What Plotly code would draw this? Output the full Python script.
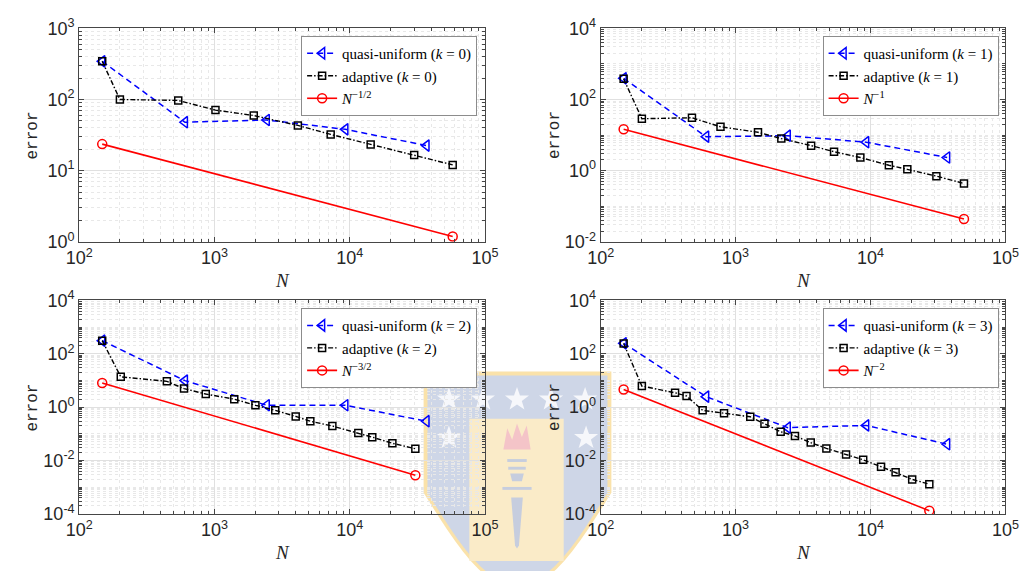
import math
import plotly.graph_objects as go

# ---------------- data ----------------
N_qu = [148, 605, 2437, 9290, 37000]

err_qu0 = [344, 47.9, 51.5, 38.1, 22.5]
N_ad0 = [148, 200, 540, 1018, 1954, 4140, 7240, 14300, 30000, 57800]
err_ad0 = [344, 100, 97, 71, 59.5, 43.2, 32.3, 23.4, 16.6, 12.05]
N_ref0 = [148, 57800]
err_ref0 = [23.6, 1.19]

err_qu1 = [393, 9.0, 9.6, 6.3, 2.34]
N_ad1 = [148, 202, 475, 773, 1466, 2183, 3631, 5370, 8410, 13680, 18750, 30800, 49300]
err_ad1 = [380, 28.8, 30.6, 17.1, 12.0, 7.96, 5.05, 3.4, 2.34, 1.42, 1.09, 0.70, 0.436]
N_ref1 = [148, 49300]
err_ref1 = [14.5, 0.0437]

err_qu2 = [310, 9.9, 1.18, 1.18, 0.297]
N_ad2 = [148, 203, 445, 596, 863, 1402, 2010, 2818, 3990, 5120, 7450, 11590, 14700, 20700, 30600]
err_ad2 = [310, 13.7, 9.3, 4.96, 3.1, 1.99, 1.18, 0.76, 0.45, 0.297, 0.196, 0.107, 0.0748, 0.0443, 0.0277]
N_ref2 = [148, 30600]
err_ref2 = [8.1, 0.00281]

err_qu3 = [248, 2.48, 0.171, 0.207, 0.0408]
N_ad3 = [148, 202, 356, 433, 570, 821, 1285, 1637, 2158, 2754, 3606, 4710, 6590, 8830, 11970, 15350, 20370, 27290]
err_ad3 = [243, 6.17, 3.46, 2.62, 0.76, 0.59, 0.437, 0.238, 0.12, 0.0836, 0.0469, 0.0285, 0.0169, 0.0106,
           0.0059, 0.0036, 0.00196, 0.0013]
N_ref3 = [148, 27290]
err_ref3 = [4.56, 1.32e-4]

ks = [0, 1, 2, 3]
ref_labels = ["<i>N</i><sup>\u22121/2</sup>", "<i>N</i><sup>\u22121</sup>",
              "<i>N</i><sup>\u22123/2</sup>", "<i>N</i><sup>\u22122</sup>"]
y_ranges = [(0, 3), (-2, 4), (-4, 4), (-4, 4)]
y_tick_exps = [[0, 1, 2, 3], [-2, 0, 2, 4], [-4, -2, 0, 2, 4], [-4, -2, 0, 2, 4]]
x_tick_exps = [2, 3, 4, 5]

panels = [
    (N_qu, err_qu0, N_ad0, err_ad0, N_ref0, err_ref0),
    (N_qu, err_qu1, N_ad1, err_ad1, N_ref1, err_ref1),
    (N_qu, err_qu2, N_ad2, err_ad2, N_ref2, err_ref2),
    (N_qu, err_qu3, N_ad3, err_ad3, N_ref3, err_ref3),
]

# ---------------- layout geometry ----------------
W, H = 1034, 571
px_x = [(67, 484), (603, 1019), (67, 484), (603, 1019)]
px_y = [(17, 239), (17, 239), (300, 522), (300, 522)]
leg_pos = [(476, 25), (1012, 25), (476, 308), (1012, 308)]

BLUE = "rgb(0,0,255)"
BLACK = "rgb(0,0,0)"
RED = "rgb(255,0,0)"
GRID = "rgb(224,224,224)"
MINOR_GRID = "rgb(232,232,232)"
AXC = "rgb(70,70,70)"
TXT = "rgb(38,38,38)"
TICKFONT = dict(family="Liberation Sans", size=18, color=TXT)
SERIF = "Liberation Serif"


def sup(e):
    return "10<sup>%s</sup>" % e


def minor_vals(lo, hi):
    vals = []
    for k in range(lo, hi):
        for m in range(2, 10):
            vals.append(m * 10.0 ** k)
    return vals


def P(x, y):
    return "%.5f,%.5f" % (x / W, 1 - y / H)


def path(pts, close=True):
    s = "M" + P(*pts[0]) + "".join(" L" + P(*p) for p in pts[1:])
    return s + (" Z" if close else "")


def star(cx, cy, r):
    pts = []
    for j in range(10):
        rr = r if j % 2 == 0 else r * 0.4
        a = -math.pi / 2 + j * math.pi / 5
        pts.append((cx + rr * math.cos(a), cy + rr * math.sin(a)))
    return path(pts)


fig = go.Figure()

# ---------------- faint watermark crest (background decoration) ----------------
def shield(x0, x1, ytop, ybend, ybot):
    cx = (x0 + x1) / 2
    pts = [(x0, ytop), (x1, ytop), (x1, ybend)]
    for j in range(1, 12):
        t = j / 12
        pts.append((x1 - (x1 - cx) * t, ybend + (ybot - ybend) * math.sin(t * math.pi / 2)))
    pts.append((cx, ybot))
    for j in range(11, 0, -1):
        t = j / 12
        pts.append((x0 + (cx - x0) * t, ybend + (ybot - ybend) * math.sin(t * math.pi / 2)))
    pts.append((x0, ybend))
    return path(pts)


shapes = [
    dict(type="path", path=shield(421, 614, 374, 500, 600), fillcolor="rgb(250,226,170)", line_width=0),
    dict(type="path", path=shield(425, 610, 378, 500, 596), fillcolor="rgb(206,214,231)", line_width=0),
    dict(type="path", path=path([(468, 423), (565, 423), (565, 571), (468, 571)]),
         fillcolor="rgb(250,235,200)", line_width=0),
]
for (sx, sy) in [(447, 403), (482, 403), (517, 403), (552, 403), (587, 403), (447, 443), (588, 443)]:
    shapes.append(dict(type="path", path=star(sx, sy, 13), fillcolor="rgb(246,247,251)", line_width=0))
# torch
shapes += [
    dict(type="path", path=path([(503, 455), (507, 433), (512, 445), (517, 428), (522, 442), (527, 430),
                                 (531, 455)]), fillcolor="rgb(244,196,200)", line_width=0),
    dict(type="path", path=path([(507, 465), (527, 465), (527, 468), (507, 468)]),
         fillcolor="rgb(198,205,222)", line_width=0),
    dict(type="path", path=path([(508, 473), (526, 473), (526, 476), (508, 476)]),
         fillcolor="rgb(198,205,222)", line_width=0),
    dict(type="path", path=path([(510, 480), (524, 480), (522, 488), (512, 488)]),
         fillcolor="rgb(198,205,222)", line_width=0),
    dict(type="path", path=path([(502, 494), (532, 494), (532, 497), (502, 497)]),
         fillcolor="rgb(198,205,222)", line_width=0),
    dict(type="path", path=path([(511, 505), (523, 505), (519, 555), (517, 558), (515, 555)]),
         fillcolor="rgb(198,205,222)", line_width=0),
]
for s in shapes:
    s.update(xref="paper", yref="paper", layer="below")
fig.update_layout(shapes=shapes)

for i, (Nq, eq, Na, ea, Nr, er) in enumerate(panels):
    sfx = "" if i == 0 else str(i + 1)
    xa, ya = "x" + sfx, "y" + sfx
    leg = "legend" + sfx
    k = ks[i]
    fig.add_trace(go.Scatter(
        x=Nq, y=eq, xaxis=xa, yaxis=ya, legend=leg,
        name="quasi-uniform (<i>k</i> = %d)" % k, mode="lines+markers",
        line=dict(color=BLUE, width=1.5, dash="6px,4px"),
        marker=dict(symbol="triangle-left-open", size=10, color=BLUE, line=dict(width=1.5, color=BLUE)),
    ))
    fig.add_trace(go.Scatter(
        x=Na, y=ea, xaxis=xa, yaxis=ya, legend=leg,
        name="adaptive (<i>k</i> = %d)" % k, mode="lines+markers",
        line=dict(color=BLACK, width=1.4, dash="5px,2px,1.5px,2px"),
        marker=dict(symbol="square-open", size=7, color=BLACK, line=dict(width=1.5, color=BLACK)),
    ))
    fig.add_trace(go.Scatter(
        x=Nr, y=er, xaxis=xa, yaxis=ya, legend=leg,
        name=ref_labels[i], mode="lines+markers",
        line=dict(color=RED, width=1.6),
        marker=dict(symbol="circle-open", size=9, color=RED, line=dict(width=1.5, color=RED)),
    ))

    x0, x1 = px_x[i]
    y0, y1 = px_y[i]
    ylo, yhi = y_ranges[i]
    ymin = minor_vals(ylo, yhi) + [10.0 ** e for e in range(ylo, yhi + 1) if e not in y_tick_exps[i]]
    common = dict(
        type="log", showline=True, mirror="ticks", linecolor=AXC, linewidth=1,
        ticks="inside", ticklen=5, tickcolor=AXC, tickfont=TICKFONT,
        showgrid=True, gridcolor=GRID, gridwidth=1, zeroline=False,
    )
    fig.layout["xaxis" + sfx] = dict(
        common,
        domain=[x0 / W, x1 / W], anchor=ya, range=[2, 5],
        tickmode="array", tickvals=[10.0 ** e for e in x_tick_exps],
        ticktext=[sup(e) for e in x_tick_exps],
        minor=dict(tickmode="array", tickvals=minor_vals(2, 5), ticks="inside", ticklen=3,
                   tickcolor=AXC, showgrid=True, gridcolor=MINOR_GRID, griddash="dot", gridwidth=1),
    )
    fig.layout["yaxis" + sfx] = dict(
        common,
        domain=[1 - y1 / H, 1 - y0 / H], anchor=xa, range=[ylo, yhi],
        tickmode="array", tickvals=[10.0 ** e for e in y_tick_exps[i]],
        ticktext=[sup(e) for e in y_tick_exps[i]],
        minor=dict(tickmode="array", tickvals=ymin, ticks="inside", ticklen=3,
                   tickcolor=AXC, showgrid=True, gridcolor=MINOR_GRID, griddash="dot", gridwidth=1),
    )
    lx, ly = leg_pos[i]
    fig.layout[leg] = dict(
        x=lx / W, y=1 - ly / H, xanchor="right", yanchor="top",
        bgcolor="white", bordercolor="rgb(140,140,140)", borderwidth=1,
        font=dict(family=SERIF, size=15, color="black"),
        itemwidth=30, tracegroupgap=0,
    )
    fig.add_annotation(
        x=(x0 - 47) / W, y=1 - ((y0 + y1) / 2) / H, xref="paper", yref="paper",
        text="error", textangle=-90, showarrow=False,
        font=dict(family="Liberation Mono", size=16, color=TXT),
        xanchor="center", yanchor="middle",
    )
    fig.add_annotation(
        x=((x0 + x1) / 2) / W, y=1 - (y1 + 40) / H, xref="paper", yref="paper",
        text="<i>N</i>", showarrow=False,
        font=dict(family=SERIF, size=19, color=TXT),
        xanchor="center", yanchor="middle",
    )

fig.update_layout(
    width=W, height=H, margin=dict(l=0, r=0, t=0, b=0),
    paper_bgcolor="white", plot_bgcolor="rgba(0,0,0,0)",
    showlegend=True,
)

fig.write_html("out.html", post_script="document.body.style.margin='0';document.body.style.overflow='hidden';")
